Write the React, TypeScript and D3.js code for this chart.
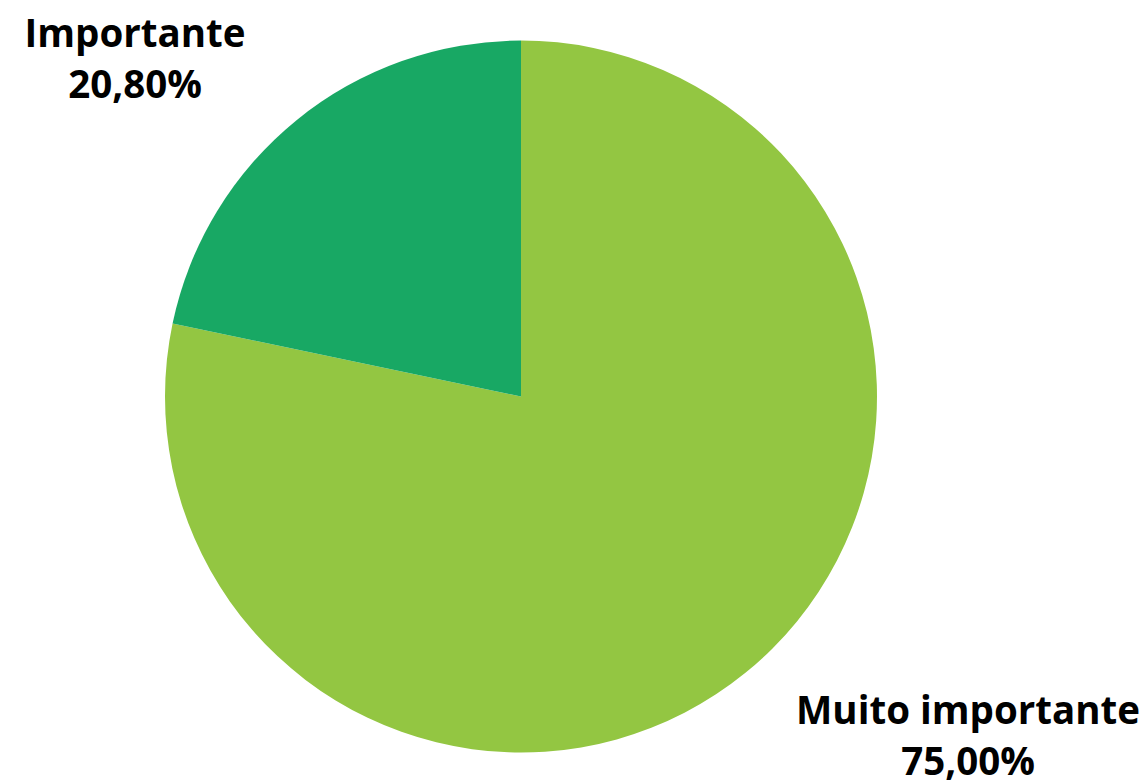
import React from "react";
import * as d3 from "d3";

const categories = ["Muito importante", "Importante"];
const values = [75.0, 20.8];
const valueLabels = ["75,00%", "20,80%"];
const colors = ["#93C642", "#18A864"];

const W = 1146;
const H = 781;

export default function App() {
  const cx = 521;
  const cy = 396.5;
  const r = 356;
  const pie = d3.pie<number>().sort(null).value((d) => d)(values);
  const arc = d3.arc<d3.PieArcDatum<number>>().innerRadius(0).outerRadius(r);
  const labelPos = [
    { x: 968, y: 724 },
    { x: 135, y: 47 },
  ];
  return (
    <svg
      width={W}
      height={H}
      style={{ position: "absolute", left: 0, top: 0 }}
      fontFamily="'Open Sans', 'Noto Sans', sans-serif"
    >
      <rect width={W} height={H} fill="#fff" />
      <g transform={`translate(${cx},${cy})`}>
        {pie.map((p, i) => (
          <path key={i} d={arc(p) || ""} fill={colors[i]} />
        ))}
      </g>
      {categories.map((c, i) => (
        <text
          key={c}
          x={labelPos[i].x}
          y={labelPos[i].y}
          textAnchor="middle"
          fontSize={38.5}
          fontWeight={700}
          fill="#000"
        >
          <tspan x={labelPos[i].x}>{c}</tspan>
          <tspan x={labelPos[i].x} dy={51}>
            {valueLabels[i]}
          </tspan>
        </text>
      ))}
    </svg>
  );
}
